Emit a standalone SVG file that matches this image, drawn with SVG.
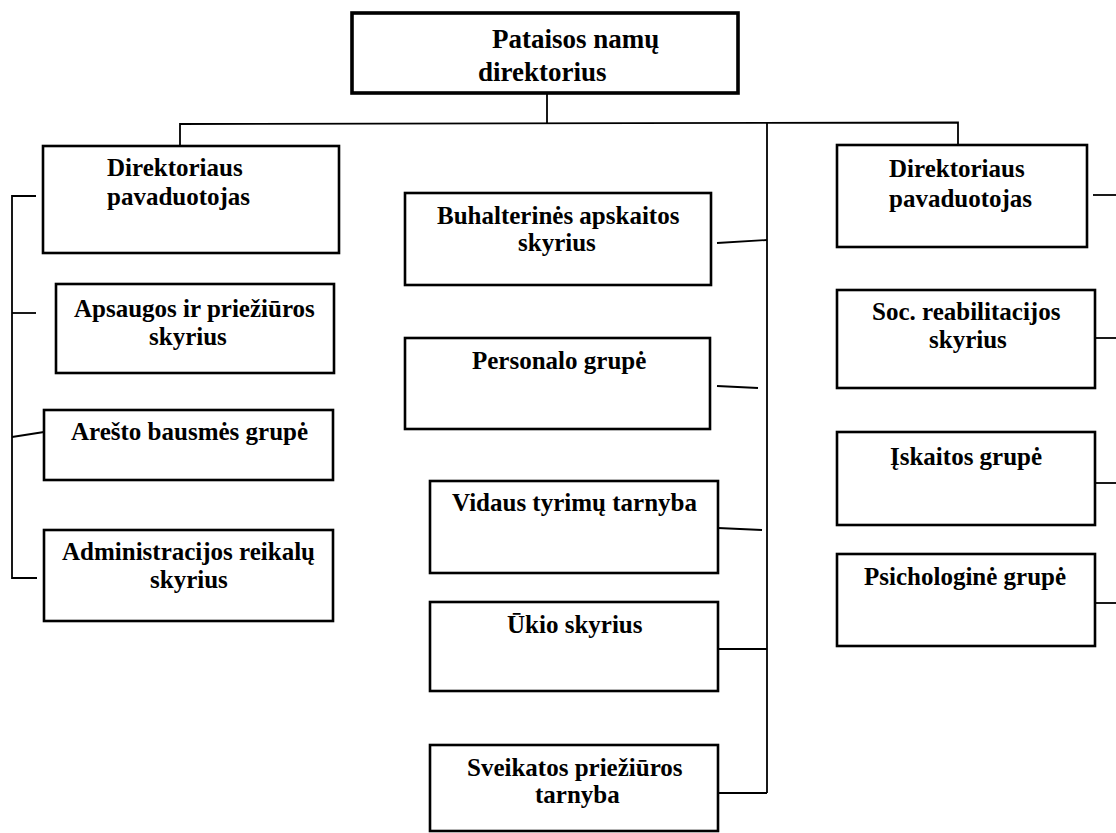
<svg xmlns="http://www.w3.org/2000/svg" width="1116" height="833" viewBox="0 0 1116 833">
  <style>
    .box { fill: #ffffff; stroke: #000000; stroke-width: 2.6; }
    .top { stroke-width: 3.6; }
    .lbl { font-family: "Liberation Serif", "Times New Roman", serif; font-weight: bold; font-size: 25px; fill: #000000; }
    .lbl-top { font-size: 27px; }
    .wire { fill: none; stroke: #000000; stroke-width: 1.8; }
  </style>
  <rect width="1116" height="833" fill="#ffffff"/>

  <!-- connectors -->
  <g id="connectors">
    <line class="wire" x1="547" y1="93" x2="547" y2="124"/>
    <polyline class="wire" points="180,146 180,124 958,122.5 958,145"/>
    <line class="wire" x1="767" y1="123" x2="767" y2="793"/>
    <line class="wire" x1="717" y1="243" x2="767" y2="240"/>
    <line class="wire" x1="717" y1="386" x2="758" y2="388"/>
    <line class="wire" x1="718" y1="528" x2="762" y2="530"/>
    <line class="wire" x1="718" y1="649" x2="767" y2="649"/>
    <line class="wire" x1="718" y1="793" x2="767" y2="793"/>
    <polyline class="wire" points="36,196 12,196 12,578 37,578"/>
    <line class="wire" x1="12" y1="313" x2="36" y2="313"/>
    <line class="wire" x1="12" y1="437" x2="44" y2="432"/>
    <line class="wire" x1="1093" y1="195" x2="1116" y2="195"/>
    <line class="wire" x1="1095" y1="338" x2="1116" y2="338"/>
    <line class="wire" x1="1095" y1="483" x2="1116" y2="483"/>
    <line class="wire" x1="1095" y1="603" x2="1116" y2="603"/>
  </g>

  <!-- head -->
  <g id="director">
    <rect class="box top" x="352" y="13" width="386" height="80"/>
    <text class="lbl lbl-top" x="492" y="48">Pataisos namų</text>
    <text class="lbl lbl-top" x="478" y="81">direktorius</text>
  </g>

  <!-- left branch -->
  <g id="deputy-left">
    <rect class="box" x="43" y="146" width="296" height="107"/>
    <text class="lbl" x="107" y="176">Direktoriaus</text>
    <text class="lbl" x="107" y="205">pavaduotojas</text>
  </g>
  <g id="security">
    <rect class="box" x="56" y="284" width="278" height="89"/>
    <text class="lbl" x="74" y="317">Apsaugos ir priežiūros</text>
    <text class="lbl" x="149" y="345">skyrius</text>
  </g>
  <g id="arrest">
    <rect class="box" x="44" y="410" width="289" height="70"/>
    <text class="lbl" x="71" y="440">Arešto bausmės grupė</text>
  </g>
  <g id="administration">
    <rect class="box" x="44" y="530" width="289" height="91"/>
    <text class="lbl" x="62" y="560">Administracijos reikalų</text>
    <text class="lbl" x="150" y="588">skyrius</text>
  </g>

  <!-- central branch -->
  <g id="accounting">
    <rect class="box" x="405" y="193" width="306" height="92"/>
    <text class="lbl" x="437" y="224">Buhalterinės apskaitos</text>
    <text class="lbl" x="518" y="251">skyrius</text>
  </g>
  <g id="personnel">
    <rect class="box" x="405" y="338" width="305" height="91"/>
    <text class="lbl" x="472" y="369">Personalo grupė</text>
  </g>
  <g id="internal-investigation">
    <rect class="box" x="430" y="481" width="288" height="92"/>
    <text class="lbl" x="452" y="511">Vidaus tyrimų tarnyba</text>
  </g>
  <g id="household">
    <rect class="box" x="430" y="602" width="288" height="89"/>
    <text class="lbl" x="507" y="633">Ūkio skyrius</text>
  </g>
  <g id="health-care">
    <rect class="box" x="430" y="745" width="288" height="86"/>
    <text class="lbl" x="467" y="776">Sveikatos priežiūros</text>
    <text class="lbl" x="535" y="803">tarnyba</text>
  </g>

  <!-- right branch -->
  <g id="deputy-right">
    <rect class="box" x="837" y="145" width="250" height="102"/>
    <text class="lbl" x="889" y="177">Direktoriaus</text>
    <text class="lbl" x="889" y="207">pavaduotojas</text>
  </g>
  <g id="social-rehabilitation">
    <rect class="box" x="837" y="290" width="258" height="98"/>
    <text class="lbl" x="872" y="320">Soc. reabilitacijos</text>
    <text class="lbl" x="929" y="348">skyrius</text>
  </g>
  <g id="registration">
    <rect class="box" x="837" y="432" width="258" height="93"/>
    <text class="lbl" x="890" y="465">Įskaitos grupė</text>
  </g>
  <g id="psychology">
    <rect class="box" x="837" y="554" width="258" height="92"/>
    <text class="lbl" x="864" y="585">Psichologinė grupė</text>
  </g>
</svg>
